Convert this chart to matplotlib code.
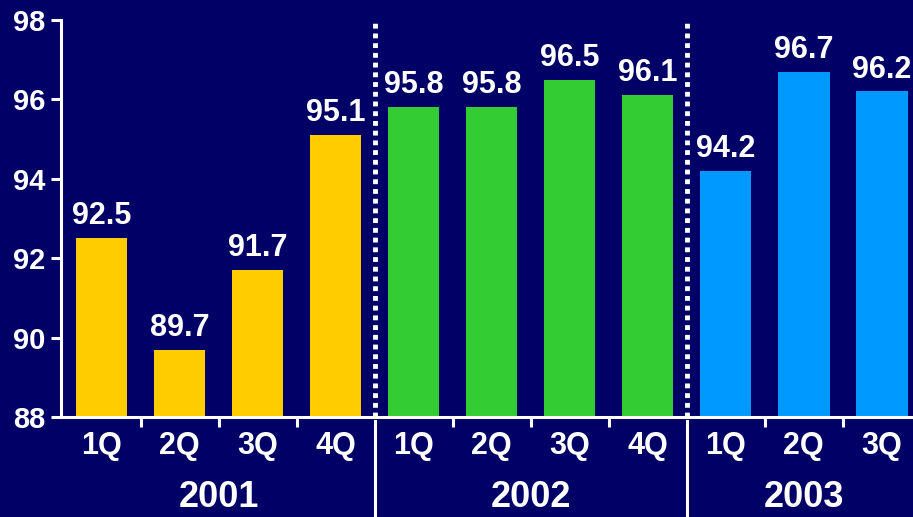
import matplotlib
matplotlib.use("Agg")
import matplotlib.pyplot as plt

quarters = ["1Q", "2Q", "3Q", "4Q", "1Q", "2Q", "3Q", "4Q", "1Q", "2Q", "3Q"]
values = [92.5, 89.7, 91.7, 95.1, 95.8, 95.8, 96.5, 96.1, 94.2, 96.7, 96.2]
years = ["2001", "2002", "2003"]
year_sizes = [4, 4, 3]
year_colors = ["#FFCC00", "#33CC33", "#0099FF"]

bg = "#000066"
plt.rcParams["font.family"] = ["Liberation Sans", "DejaVu Sans"]
plt.rcParams["font.weight"] = "bold"

fig = plt.figure(figsize=(9.13, 5.17), dpi=100, facecolor=bg)
ax = fig.add_axes([61 / 913, 0.1934, 1 - 61 / 913, 0.9613 - 0.1934])
ax.set_facecolor(bg)

colors = []
for c, n in zip(year_colors, year_sizes):
    colors += [c] * n
x = list(range(len(values)))
ax.bar(x, values, width=0.66, color=colors, bottom=0)
for xi, v in zip(x, values):
    ax.annotate(f"{v:.1f}", (xi, v), xytext=(0, 5), textcoords="offset points",
                ha="center", va="bottom", color="white", fontsize=22, fontweight="bold")

ax.set_ylim(88, 98)
ax.set_xlim(-0.52, 10.4)
ax.set_yticks([88, 90, 92, 94, 96, 98])
ax.tick_params(axis="y", colors="white", labelsize=21, length=7, width=2.2, pad=4)
ax.set_xticks([0.5, 1.5, 2.5, 4.5, 5.5, 6.5, 8.5, 9.5])
ax.set_xticklabels([])
ax.tick_params(axis="x", colors="white", length=7, width=2.2, direction="out")
for s in ["top", "right"]:
    ax.spines[s].set_visible(False)
for s in ["left", "bottom"]:
    ax.spines[s].set_color("white")
    ax.spines[s].set_linewidth(2.2)

# group separators: dotted above the axis, solid below
start = 0
for i, (yr, n) in enumerate(zip(years, year_sizes)):
    end = start + n
    if i > 0:
        sep = start - 0.5
        ax.plot([sep, sep], [88, 98], color="white", lw=3.5, ls=(0, (1, 1)), clip_on=False)
        ax.plot([sep, sep], [87.9, 85.0], color="white", lw=2.2, clip_on=False)
    center = (start + end - 1) / 2
    ax.text(center, 85.98, yr, ha="center", va="center", color="white",
            fontsize=26, fontweight="bold")
    start = end

for xi, q in zip(x, quarters):
    ax.text(xi, 87.28, q, ha="center", va="center", color="white",
            fontsize=22, fontweight="bold")

fig.savefig("out.png", dpi=100, facecolor=bg)
